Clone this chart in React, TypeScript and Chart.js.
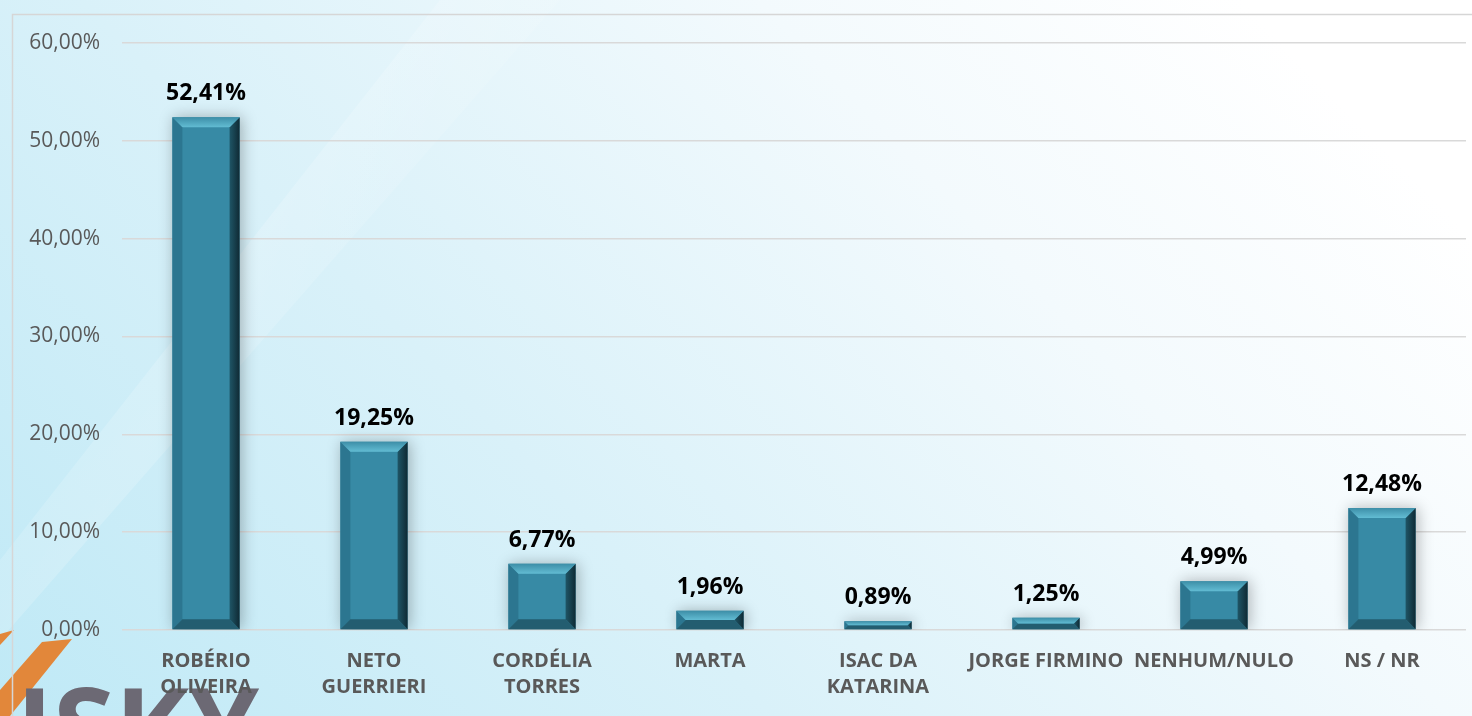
import React, { useEffect, useRef } from "react";
import { Chart, registerables } from "chart.js";

Chart.register(...registerables);

const categories: (string | string[])[] = [
  ["ROBÉRIO", "OLIVEIRA"],
  ["NETO", "GUERRIERI"],
  ["CORDÉLIA", "TORRES"],
  "MARTA",
  ["ISAC DA", "KATARINA"],
  "JORGE FIRMINO",
  "NENHUM/NULO",
  "NS / NR",
];
const values: number[] = [52.41, 19.25, 6.77, 1.96, 0.89, 1.25, 4.99, 12.48];
const yTicks: number[] = [0, 10, 20, 30, 40, 50, 60];

const fmt = (v: number) => v.toFixed(2).replace(".", ",") + "%";

const W = 1472;
const H = 716;

const backgroundPlugin = {
  id: "bg",
  beforeDraw(chart: any) {
    const ctx = chart.ctx as CanvasRenderingContext2D;
    ctx.save();
    const g = ctx.createLinearGradient(0, H, 1000, -250);
    g.addColorStop(0, "#bfe9f6");
    g.addColorStop(0.4, "#d9f1f9");
    g.addColorStop(0.75, "#f3fafd");
    g.addColorStop(1, "#ffffff");
    ctx.fillStyle = g;
    ctx.fillRect(0, 0, W, H);
    // soft diagonal band
    const gb = ctx.createLinearGradient(0, 0, 500, 300);
    gb.addColorStop(0, "rgba(255,255,255,0)");
    gb.addColorStop(0.6, "rgba(255,255,255,0.18)");
    gb.addColorStop(1, "rgba(255,255,255,0)");
    ctx.fillStyle = gb;
    ctx.beginPath();
    ctx.moveTo(0, 560);
    ctx.lineTo(0, 640);
    ctx.lineTo(560, 0);
    ctx.lineTo(440, 0);
    ctx.closePath();
    ctx.fill();
    // logo stripes
    ctx.fillStyle = "#e2873a";
    ctx.beginPath();
    ctx.moveTo(0, 634);
    ctx.lineTo(14, 630);
    ctx.lineTo(0, 645);
    ctx.closePath();
    ctx.fill();
    ctx.beginPath();
    ctx.moveTo(42, 642);
    ctx.lineTo(72, 639);
    ctx.lineTo(10, 716);
    ctx.lineTo(0, 716);
    ctx.lineTo(0, 690);
    ctx.closePath();
    ctx.fill();
    // logo text
    ctx.fillStyle = "#6c6974";
    ctx.font = "bold 112px 'Open Sans', sans-serif";
    ctx.textBaseline = "alphabetic";
    ctx.textAlign = "left";
    ctx.fillText("ISKY", 16, 768);
    // frame
    ctx.strokeStyle = "#d6d6d6";
    ctx.lineWidth = 1.5;
    ctx.beginPath();
    ctx.moveTo(12.5, H + 2);
    ctx.lineTo(12.5, 14.5);
    ctx.lineTo(W + 2, 14.5);
    ctx.stroke();
    ctx.restore();
  },
};

const shadowPlugin = {
  id: "barShadow",
  beforeDatasetsDraw(chart: any) {
    const ctx = chart.ctx as CanvasRenderingContext2D;
    ctx.save();
    ctx.shadowColor = "rgba(0,0,0,0.28)";
    ctx.shadowBlur = 14;
    ctx.shadowOffsetX = 2;
    ctx.shadowOffsetY = 0;
  },
  afterDatasetsDraw(chart: any) {
    const ctx = chart.ctx as CanvasRenderingContext2D;
    ctx.restore();
    const meta = chart.getDatasetMeta(0);
    ctx.save();
    meta.data.forEach((bar: any, i: number) => {
      const { x, y, base, width } = bar.getProps(["x", "y", "base", "width"], true);
      const l = x - width / 2;
      const r = x + width / 2;
      const t = Math.min(y, base);
      const b = Math.max(y, base);
      const bv = Math.min(10, (b - t) / 2);
      const poly = (pts: number[][], fill: string | CanvasGradient) => {
        ctx.fillStyle = fill;
        ctx.beginPath();
        ctx.moveTo(pts[0][0], pts[0][1]);
        for (let k = 1; k < pts.length; k++) ctx.lineTo(pts[k][0], pts[k][1]);
        ctx.closePath();
        ctx.fill();
      };
      // left
      poly([[l, t], [l + bv, t + bv], [l + bv, b - bv], [l, b]], "#2c7690");
      // bottom
      poly([[l, b], [l + bv, b - bv], [r - bv, b - bv], [r, b]], "#235d70");
      // right
      const gr = ctx.createLinearGradient(r - bv, 0, r, 0);
      gr.addColorStop(0, "#1f5566");
      gr.addColorStop(1, "#0f2a34");
      poly([[r, t], [r, b], [r - bv, b - bv], [r - bv, t + bv]], gr);
      // top
      const gt = ctx.createLinearGradient(0, t, 0, t + bv);
      gt.addColorStop(0, "#3d8ea7");
      gt.addColorStop(1, "#62bcd3");
      poly([[l, t], [r, t], [r - bv, t + bv], [l + bv, t + bv]], gt);
      // value label
      ctx.fillStyle = "#000000";
      ctx.font = "bold 23px 'Open Sans', sans-serif";
      ctx.textAlign = "center";
      ctx.textBaseline = "alphabetic";
      ctx.fillText(fmt(values[i]), x, t - 17);
    });
    ctx.restore();
  },
};

export default function App() {
  const ref = useRef<HTMLCanvasElement | null>(null);
  useEffect(() => {
    document.body.style.margin = "0";
    const canvas = ref.current;
    if (!canvas) return;
    const chart = new Chart(canvas, {
      type: "bar",
      data: {
        labels: categories,
        datasets: [
          {
            data: values,
            backgroundColor: "#378aa5",
            borderWidth: 0,
            barPercentage: 0.4,
            categoryPercentage: 1,
          },
        ],
      },
      options: {
        animation: false,
        responsive: false,
        maintainAspectRatio: false,
        layout: { padding: { top: 43, right: 6, left: 0, bottom: 0 } },
        plugins: {
          legend: { display: false },
          tooltip: { enabled: false },
        },
        scales: {
          x: {
            grid: { display: false, drawTicks: false },
            border: { display: false },
            ticks: {
              color: "#595959",
              font: { family: "'Open Sans', sans-serif", size: 20, weight: "bold", lineHeight: 1.3 },
              padding: 18,
              maxRotation: 0,
              autoSkip: false,
            },
            afterFit(scale: any) {
              scale.height = H - 630;
            },
          },
          y: {
            min: 0,
            max: 60,
            afterBuildTicks(scale: any) {
              scale.ticks = yTicks.map((v) => ({ value: v }));
            },
            grid: { color: "#d9d9d9", lineWidth: 1.5, drawTicks: false },
            border: { display: false },
            ticks: {
              color: "#595959",
              font: { family: "'Open Sans', sans-serif", size: 21 },
              padding: 22,
              callback: (v: any) => fmt(Number(v)),
            },
            afterFit(scale: any) {
              scale.width = 122;
            },
          },
        },
      },
      plugins: [backgroundPlugin, shadowPlugin],
    });
    return () => chart.destroy();
  }, []);
  return (
    <div style={{ width: W, height: H }}>
      <canvas ref={ref} width={W} height={H} style={{ display: "block" }} />
    </div>
  );
}
